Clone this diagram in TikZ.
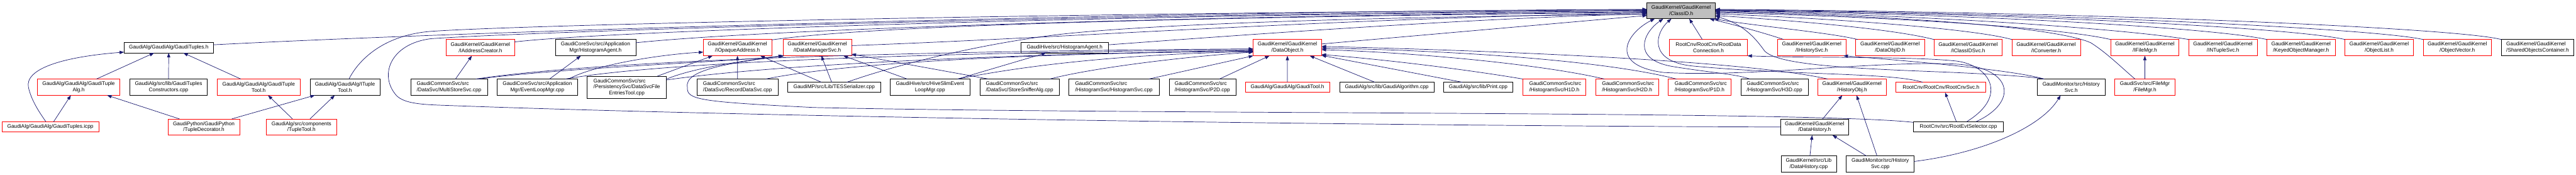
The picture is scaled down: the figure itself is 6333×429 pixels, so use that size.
\documentclass[tikz,border=0pt]{standalone}
\usepackage{fontspec}
\setmainfont{Liberation Sans}
\usetikzlibrary{arrows.meta,calc}
\definecolor{edgeblue}{HTML}{191970}
\definecolor{nodegray}{HTML}{BFBFBF}
\newlength\ljw
\newcommand\lj[2]{\settowidth\ljw{#2}\makebox[\ljw][l]{#1}}
\newcommand\nd[7]{\node[#1,minimum width={#5pt-#3pt},minimum height={#6pt-#4pt}] (#2) at (#3,#4) {#7};}
\tikzset{
 box/.style={draw=black,line width=1pt,fill=white,inner sep=0pt,outer sep=0pt,align=center,anchor=north west,font=\fontsize{12.8}{15}\selectfont},
 rbox/.style={box,draw=red},
 gbox/.style={box,fill=nodegray},
 dep/.style={draw=edgeblue,line width=1.1pt,{Triangle[length=11pt,width=8pt]}-}
}
\begin{document}
\begin{tikzpicture}[x=1pt,y=-1pt]
\fill[white] (0,0) rectangle (6333,429);
\useasboundingbox (0,0) rectangle (6333,429);
% ---------- row A
\nd{box}{tuples}{305}{104}{524.5}{130}{GaudiAlg/GaudiAlg/GaudiTuples.h}
\nd{rbox}{iaddr}{1097}{97}{1265}{137}{GaudiKernel/GaudiKernel\\/IAddressCreator.h}
\nd{box}{hagent}{1365}{97}{1563}{137}{GaudiCoreSvc/src/Application\\Mgr/HistogramAgent.h}
\nd{rbox}{iopaque}{1729}{97}{1897}{137}{GaudiKernel/GaudiKernel\\/IOpaqueAddress.h}
\nd{rbox}{idms}{1925}{97}{2093.5}{137}{GaudiKernel/GaudiKernel\\/IDataManagerSvc.h}
\nd{box}{hivehagent}{2509.5}{104}{2725}{130}{GaudiHive/src/HistogramAgent.h}
\nd{rbox}{dataobj}{3081}{97}{3249}{137}{GaudiKernel/GaudiKernel\\/DataObject.h}
\nd{gbox}{classid}{4049}{6}{4217}{46}{GaudiKernel/GaudiKernel\\/ClassID.h}
\nd{rbox}{rootdc}{4104}{97}{4296}{137}{RootCnv/RootCnv/RootData\\Connection.h}
\nd{rbox}{ihist}{4370}{97}{4538}{137}{GaudiKernel/GaudiKernel\\/IHistorySvc.h}
\nd{rbox}{dataobjid}{4562}{97}{4731}{137}{GaudiKernel/GaudiKernel\\/DataObjID.h}
\nd{rbox}{iclassidsvc}{4754.5}{97}{4922.5}{137}{GaudiKernel/GaudiKernel\\/IClassIDSvc.h}
\nd{rbox}{iconv}{4946}{97}{5114.5}{137}{GaudiKernel/GaudiKernel\\/IConverter.h}
\nd{rbox}{ifilemgr}{5189}{97}{5357}{137}{GaudiKernel/GaudiKernel\\/IFileMgr.h}
\nd{rbox}{intuple}{5381}{97}{5549}{137}{GaudiKernel/GaudiKernel\\/INTupleSvc.h}
\nd{rbox}{keyed}{5573}{97}{5741}{137}{GaudiKernel/GaudiKernel\\/KeyedObjectManager.h}
\nd{rbox}{objlist}{5765}{97}{5933}{137}{GaudiKernel/GaudiKernel\\/ObjectList.h}
\nd{rbox}{objvec}{5957}{97}{6125}{137}{GaudiKernel/GaudiKernel\\/ObjectVector.h}
\nd{box}{shared}{6149}{97}{6328}{137}{\lj{GaudiKernel/GaudiKernel}{/SharedObjectsContainer.h}\\/SharedObjectsContainer.h}
% ---------- row B
\nd{rbox}{tupleAlg}{92}{194}{294.5}{234}{GaudiAlg/GaudiAlg/GaudiTuple\\Alg.h}
\nd{box}{tuplesCons}{319}{194}{509.7}{234}{GaudiAlg/src/lib/GaudiTuples\\Constructors.cpp}
\nd{rbox}{tupleToolh}{534.5}{194}{737.3}{234}{GaudiAlg/GaudiAlg/GaudiTuple\\Tool.h}
\nd{box}{ituple}{762}{194}{934}{234}{GaudiAlg/GaudiAlg/ITuple\\Tool.h}
\nd{box}{multistore}{1009.7}{194}{1198}{234}{\lj{GaudiCommonSvc/src}{/DataSvc/MultiStoreSvc.cpp}\\/DataSvc/MultiStoreSvc.cpp}
\nd{box}{evloop}{1222}{194}{1420}{234}{GaudiCoreSvc/src/Application\\Mgr/EventLoopMgr.cpp}
\nd{box}{dsfet}{1443.7}{187}{1638.2}{242}{\lj{GaudiCommonSvc/src}{/PersistencySvc/DataSvcFile}\\/PersistencySvc/DataSvcFile\\EntriesTool.cpp}
\nd{box}{recdata}{1713.6}{194}{1912.7}{234}{\lj{GaudiCommonSvc/src}{/DataSvc/RecordDataSvc.cpp}\\/DataSvc/RecordDataSvc.cpp}
\nd{box}{tesser}{1936.5}{202}{2164.8}{227}{GaudiMP/src/Lib/TESSerializer.cpp}
\nd{box}{hiveslim}{2188.2}{194}{2384.5}{234}{GaudiHive/src/HiveSlimEvent\\LoopMgr.cpp}
\nd{box}{sniffer}{2409}{194}{2604}{234}{\lj{GaudiCommonSvc/src}{/DataSvc/StoreSnifferAlg.cpp}\\/DataSvc/StoreSnifferAlg.cpp}
\nd{box}{histsvc}{2627.6}{194}{2849.4}{234}{\lj{GaudiCommonSvc/src}{/HistogramSvc/HistogramSvc.cpp}\\/HistogramSvc/HistogramSvc.cpp}
\nd{box}{p2d}{2874}{194}{3038}{234}{\lj{GaudiCommonSvc/src}{/HistogramSvc/P2D.cpp}\\/HistogramSvc/P2D.cpp}
\nd{rbox}{gauditool}{3061.6}{202}{3268.5}{227}{GaudiAlg/GaudiAlg/GaudiTool.h}
\nd{box}{galgo}{3293}{202}{3525.4}{227}{GaudiAlg/src/lib/GaudiAlgorithm.cpp}
\nd{box}{print}{3548.8}{202}{3719.3}{227}{GaudiAlg/src/lib/Print.cpp}
\nd{rbox}{h1d}{3743.4}{194}{3898.7}{234}{\lj{GaudiCommonSvc/src}{/HistogramSvc/H1D.h}\\/HistogramSvc/H1D.h}
\nd{rbox}{h2d}{3922.5}{194}{4077.5}{234}{\lj{GaudiCommonSvc/src}{/HistogramSvc/H2D.h}\\/HistogramSvc/H2D.h}
\nd{rbox}{p1d}{4101}{194}{4255.8}{234}{\lj{GaudiCommonSvc/src}{/HistogramSvc/P1D.h}\\/HistogramSvc/P1D.h}
\nd{box}{h3d}{4279.6}{194}{4445.3}{234}{\lj{GaudiCommonSvc/src}{/HistogramSvc/H3D.cpp}\\/HistogramSvc/H3D.cpp}
\nd{rbox}{historyobj}{4469}{194}{4637.4}{234}{GaudiKernel/GaudiKernel\\/HistoryObj.h}
\nd{rbox}{rootcnvsvc}{4661.2}{202}{4882.3}{227}{RootCnv/RootCnv/RootCnvSvc.h}
\nd{box}{histsvch}{5008.3}{194}{5175.4}{234}{GaudiMonitor/src/History\\Svc.h}
\nd{rbox}{filemgrh}{5198.8}{194}{5347.2}{234}{GaudiSvc/src/FileMgr\\/FileMgr.h}
% ---------- row C
\nd{rbox}{icpp}{4.8}{299}{242.8}{324}{GaudiAlg/GaudiAlg/GaudiTuples.icpp}
\nd{rbox}{tupleDec}{413}{292}{589}{332}{GaudiPython/GaudiPython\\/TupleDecorator.h}
\nd{rbox}{tupleToolComp}{655}{292}{827.2}{332}{GaudiAlg/src/components\\/TupleTool.h}
\nd{box}{datahisth}{4377}{292}{4545}{332}{GaudiKernel/GaudiKernel\\/DataHistory.h}
\nd{box}{rootevtsel}{4704}{299}{4925.3}{324}{RootCnv/src/RootEvtSelector.cpp}
% ---------- row D
\nd{box}{datahistcpp}{4378.4}{383}{4514.8}{422}{GaudiKernel/src/Lib\\/DataHistory.cpp}
\nd{box}{histsvccpp}{4539}{383}{4706}{422}{GaudiMonitor/src/History\\Svc.cpp}

% ================= edges
% GaudiTuples cluster
\draw[dep] ($(tuples.west)+(0,11)$) .. controls (150,140) and (60,170) .. (70,215) .. controls (78,250) and (100,280) .. ($(icpp.north)+(-11,0)$);
\draw[dep] ($(tuples.south)+(-36,0)$) -- ($(tupleAlg.north)+(44,0)$);
\draw[dep] (tuples.south) -- (tuplesCons.north);
\draw[dep] ($(tuples.south)+(36,0)$) -- ($(tupleToolh.north)+(-44,0)$);
\draw[dep] ($(tupleAlg.south)+(-19,0)$) -- ($(icpp.north)+(8,0)$);
\draw[dep] ($(tupleAlg.south)+(70,0)$) -- ($(tupleDec.north)+(-60,0)$);
\draw[dep] ($(ituple.south)+(-74,0)$) -- ($(tupleDec.north)+(69,0)$);
\draw[dep] ($(tupleToolh.south)+(23,0)$) -- ($(tupleToolComp.north)+(-22,0)$);
\draw[dep] ($(ituple.south)+(-25,0)$) -- ($(tupleToolComp.north)+(21,0)$);

% into ClassID from the left
\draw[dep] ($(classid.west)+(0,-3)$) .. controls (3000,26) and (1300,70) .. ($(tuples.east)+(0,-7)$);
\draw[dep] ($(classid.west)+(0,-2)$) .. controls (2700,30) and (1300,60) .. (1060,77) .. controls (940,86) and (880,150) .. ($(ituple.north)+(10,0)$);
\draw[dep] ($(classid.west)+(0,-1)$) .. controls (2600,36) and (1300,78) .. (1060,95) .. controls (960,107) and (930,185) .. (975,235) .. controls (995,255) and (1040,257) .. (1100,259) .. controls (1800,285) and (3200,308) .. (datahisth.west);
\draw[dep] ($(classid.west)+(0,1)$) .. controls (2800,35) and (1500,75) .. ($(iaddr.north east)+(0,6)$);
\draw[dep] ($(classid.west)+(0,3)$) .. controls (3000,38) and (1900,70) .. ($(hagent.north east)+(0,8)$);
\draw[dep] ($(classid.west)+(0,4)$) .. controls (3200,40) and (2200,55) .. ($(iopaque.north east)+(0,1)$);
\draw[dep] ($(classid.west)+(0,6)$) .. controls (3300,44) and (2600,94) .. ($(idms.north east)+(0,15)$);
\draw[dep] ($(classid.west)+(0,9)$) .. controls (3300,42) and (2800,62) .. (2600,85) .. controls (2400,110) and (2200,160) .. ($(tesser.north east)+(-83,0)$);
\draw[dep] ($(classid.west)+(0,8)$) .. controls (3600,45) and (3000,90) .. ($(hivehagent.east)+(0,-7)$);
\draw[dep] ($(classid.west)+(0,12)$) -- ($(dataobj.north east)+(0,11)$);

% into ClassID from the right
\draw[dep] ($(classid.south)+(20,0)$) -- ($(rootdc.north)+(-15,0)$);
\draw[dep] ($(classid.south east)+(-14,0)$) .. controls (4280,65) and (4350,85) .. ($(ihist.north west)+(15,0)$);
\draw[dep] ($(classid.south east)+(-3,0)$) .. controls (4300,62) and (4500,80) .. ($(dataobjid.north west)+(5,0)$);
\draw[dep] ($(classid.east)+(0,12)$) .. controls (4400,50) and (4650,70) .. (iclassidsvc.north west);
\draw[dep] ($(classid.east)+(0,8)$) .. controls (4500,45) and (4850,70) .. (iconv.north west);
\draw[dep] ($(classid.east)+(0,5)$) .. controls (4600,40) and (5050,65) .. (ifilemgr.north west);
\draw[dep] ($(classid.east)+(0,3)$) .. controls (4650,38) and (5050,65) .. (5140,105) .. controls (5180,130) and (5220,170) .. ($(filemgrh.north west)+(50,0)$);
\draw[dep] ($(classid.east)+(0,1)$) .. controls (4800,38) and (5250,75) .. (intuple.north west);
\draw[dep] (classid.east) .. controls (4900,35) and (5450,70) .. (keyed.north west);
\draw[dep] ($(classid.east)+(0,-1)$) .. controls (5000,33) and (5650,70) .. (objlist.north west);
\draw[dep] ($(classid.east)+(0,-2)$) .. controls (5100,32) and (5850,72) .. (objvec.north west);
\draw[dep] ($(classid.east)+(0,-3)$) .. controls (5200,30) and (6050,70) .. (shared.north west);
\draw[dep] ($(classid.east)+(0,14)$) .. controls (4290,60) and (4320,100) .. (4338,125) .. controls (4370,160) and (4550,168) .. (4780,177) .. controls (4900,182) and (4990,188) .. ($(histsvch.north west)+(17,0)$);

% loops into ClassID from below
\draw[dep] ($(classid.south)+(-65,0)$) .. controls (4000,80) and (3950,160) .. (4090,178) .. controls (4300,190) and (4600,150) .. (4800,157) .. controls (4950,162) and (4965,250) .. ($(rootevtsel.north)+(43,0)$);
\draw[dep] ($(classid.south)+(-44,0)$) .. controls (4040,80) and (4010,145) .. (4110,163) .. controls (4200,178) and (4270,182) .. ($(h3d.north west)+(22,0)$);
\draw[dep] ($(classid.south)+(-24,0)$) .. controls (4070,80) and (4050,150) .. (4160,162) .. controls (4400,185) and (4650,178) .. ($(rootcnvsvc.north)+(-45,0)$);

% DataObject
\draw[dep] ($(dataobj.west)+(0,3)$) .. controls (2300,125) and (1500,145) .. ($(multistore.north east)+(-28,0)$);
\draw[dep] ($(dataobj.west)+(0,5)$) .. controls (2400,128) and (1650,148) .. ($(evloop.north east)+(-30,0)$);
\draw[dep] ($(dataobj.west)+(0,7)$) .. controls (2500,132) and (1900,158) .. ($(dsfet.east)+(0,-18)$);
\draw[dep] ($(dataobj.west)+(0,9)$) .. controls (2600,130) and (2100,150) .. ($(recdata.north east)+(-30,0)$);
\draw[dep] ($(dataobj.west)+(0,10)$) .. controls (2800,132) and (2550,155) .. ($(hiveslim.north east)+(-30,0)$);
\draw[dep] ($(dataobj.west)+(0,11)$) .. controls (2900,140) and (2680,168) .. ($(sniffer.north east)+(-23,0)$);
\draw[dep] (dataobj.south west) -- ($(histsvc.north)+(86,0)$);
\draw[dep] ($(dataobj.south west)+(40,0)$) -- ($(p2d.north)+(42,0)$);
\draw[dep] (dataobj.south) -- (gauditool.north);
\draw[dep] ($(dataobj.south)+(55,0)$) -- ($(galgo.north)+(-29,0)$);
\draw[dep] ($(dataobj.south east)+(0,-1)$) -- ($(print.north)+(-39,0)$);
\draw[dep] ($(dataobj.south east)+(0,-3)$) .. controls (3450,150) and (3650,178) .. (h1d.north west);
\draw[dep] ($(dataobj.east)+(0,5)$) .. controls (3500,130) and (3800,160) .. ($(h2d.north)+(-56,0)$);
\draw[dep] ($(dataobj.east)+(0,1)$) .. controls (3600,125) and (3950,150) .. ($(p1d.north)+(-57,0)$);
\draw[dep] ($(dataobj.east)+(0,-3)$) .. controls (3700,125) and (4300,150) .. ($(historyobj.north west)+(24,0)$);

% IAddressCreator, HistogramAgent, IOpaqueAddress, IDataManagerSvc
\draw[dep] ($(iaddr.south)+(-21,0)$) -- ($(multistore.north)+(16,0)$);
\draw[dep] ($(hagent.south)+(-36,0)$) -- ($(evloop.north)+(30,0)$);
\draw[dep] ($(iopaque.west)+(0,11)$) .. controls (1620,134) and (1460,160) .. ($(evloop.north east)+(-22,0)$);
\draw[dep] ($(iopaque.south west)+(23,0)$) -- ($(dsfet.north east)+(-22,0)$);
\draw[dep] (iopaque.south) -- (recdata.north);
\draw[dep] ($(iopaque.south east)+(-28,0)$) -- ($(tesser.north)+(-31,0)$);
\draw[dep] (idms.south west) .. controls (1800,152) and (1400,165) .. ($(multistore.north east)+(-22,0)$);
\draw[dep] ($(idms.south west)+(3,0)$) .. controls (1820,150) and (1700,168) .. ($(dsfet.east)+(0,-20)$);
\draw[dep] ($(idms.south)+(10,0)$) -- ($(tesser.north)+(-6,0)$);
\draw[dep] ($(idms.east)+(0,16)$) -- ($(sniffer.north west)+(21,0)$);
\draw[dep] ($(idms.south east)+(-20,0)$) -- ($(hiveslim.north west)+(42,0)$);
\draw[dep] ($(hivehagent.south west)+(62,0)$) -- ($(hiveslim.north east)+(-30,0)$);
\draw[dep] (idms.south west) .. controls (1800,155) and (1680,170) .. (1690,215) .. controls (1688,245) and (1720,250) .. (2000,264) .. controls (2800,282) and (4450,272) .. ($(rootevtsel.west)+(0,-11)$);

% history / root cluster
\draw[dep] ($(historyobj.south)+(-24,0)$) -- ($(datahisth.north)+(20,0)$);
\draw[dep] ($(datahisth.south)+(-6,0)$) -- ($(datahistcpp.north)+(3,0)$);
\draw[dep] ($(datahisth.south)+(44,0)$) -- ($(histsvccpp.north)+(-34,0)$);
\draw[dep] ($(historyobj.south)+(11,0)$) -- ($(histsvccpp.north)+(-8,0)$);
\draw[dep] ($(histsvch.south)+(-26,0)$) .. controls (5020,310) and (4880,375) .. ($(histsvccpp.east)+(0,-6)$);
\draw[dep] ($(ihist.south east)+(-6,0)$) .. controls (4700,150) and (4950,172) .. ($(histsvch.north west)+(17,0)$);
\draw[dep] ($(rootcnvsvc.south)+(10,0)$) -- ($(rootevtsel.north)+(-5,0)$);
\draw[dep] (rootdc.south east) .. controls (4450,143) and (4700,138) .. (4810,150) .. controls (4890,160) and (4940,235) .. ($(rootevtsel.north)+(20,0)$);
\draw[dep] (ifilemgr.south) -- (filemgrh.north);
\end{tikzpicture}
\end{document}
